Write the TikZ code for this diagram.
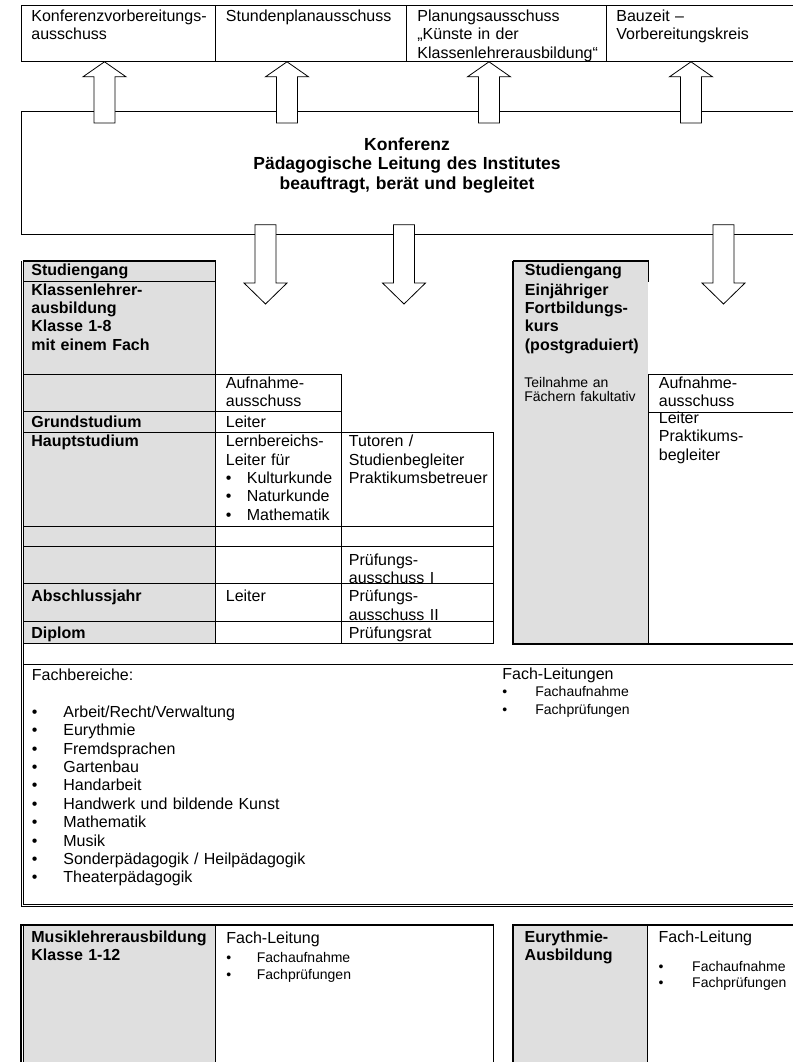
\documentclass[tikz,border=0pt]{standalone}
\usepackage{fontspec}
\setmainfont{Liberation Sans}
\usetikzlibrary{calc}
\definecolor{shade}{RGB}{223,223,223}
\newcommand\fnorm{\fontsize{16}{18.4}\selectfont}
\newcommand\fsmall{\fontsize{14}{17.5}\selectfont}
\newcommand\fbig{\fontsize{17.5}{19.6}\selectfont\bfseries}
\newcommand\bul[2][21pt]{\makebox[#1][l]{\textbullet}#2}

\begin{document}
\begin{tikzpicture}[x=1pt, y=-1pt, line width=0.8pt,
    cell/.style 2 args={draw, anchor=north west, inner sep=0pt,
                        minimum width=#1, minimum height=#2},
    gcell/.style 2 args={cell={#1}{#2}, fill=shade},
    txt/.style={anchor=base west, inner sep=0pt, align=left,
                text width=280pt, font=\fnorm},
    btxt/.style={txt, font=\fnorm\bfseries},
    stxt/.style={txt, font=\fsmall},
    ktxt/.style={anchor=base, inner sep=0pt, align=center,
                 text width=420pt, font=\fbig},
    frame/.style={line width=1.6pt},
    blockarrow/.style 2 args={draw, fill=white,
      to path={let \p1=(\tikztostart), \p2=(\tikztotarget) in
        ({\x1-10.5pt},{\y1-(#2)}) -- ({\x1-10.5pt},{\y2-(#1)}) -- ({\x1-21.5pt},{\y2-(#1)})
        -- (\x2,\y2) -- ({\x1+21.5pt},{\y2-(#1)}) -- ({\x1+10.5pt},{\y2-(#1)})
        -- ({\x1+10.5pt},{\y1-(#2)}) -- cycle}}
  ]
  \useasboundingbox (0,0) rectangle (792,1062);

  % Ausschuesse
  \node[cell={194pt}{56pt}] (vorb) at (21,5) {};
  \node[cell={191pt}{56pt}] (stdpl) at (215,5) {};
  \node[cell={200pt}{56pt}] (kuenste) at (406,5) {};
  \node[cell={202pt}{56pt}] (bauzeit) at (606,5) {};
  \node[txt] (vorb-t) at (31,21.5) {Konferenzvorbereitungs-\\ausschuss};
  \node[txt] (stdpl-t) at (225.5,21.5) {Stundenplanausschuss};
  \node[txt] (kuenste-t) at (417,21.5) {Planungsausschuss\\„Künste in der\\Klassenlehrerausbildung“};
  \node[txt] (bauzeit-t) at (616,21.5) {Bauzeit –\\Vorbereitungskreis};

  % Konferenz
  \node[cell={787pt}{123pt}] (konf) at (21,111) {};
  \node[ktxt] (konf-t) at (407,150) {Konferenz\\Pädagogische Leitung des Institutes\\beauftragt, berät und begleitet};

  % Studiengang Klassenlehrer
  \node[gcell={192pt}{20pt}] (stg1) at (23,261) {};
  \node[gcell={192pt}{93pt}] (kl) at (23,281) {};
  \node[gcell={192pt}{37pt}] (kl3) at (23,374) {};
  \node[gcell={192pt}{21pt}] (grund) at (23,411) {};
  \node[gcell={192pt}{94pt}] (haupt) at (23,432) {};
  \node[gcell={192pt}{20pt}] (kl6) at (23,526) {};
  \node[gcell={192pt}{37pt}] (kl7) at (23,546) {};
  \node[gcell={192pt}{38pt}] (absch) at (23,583) {};
  \node[gcell={192pt}{22pt}] (dipl) at (23,621) {};
  \node[cell={126pt}{37pt}] (aufn1) at (215,374) {};
  \node[cell={126pt}{21pt}] (leit1) at (215,411) {};
  \node[cell={126pt}{94pt}] (lern) at (215,432) {};
  \node[cell={126pt}{20pt}] (lern6) at (215,526) {};
  \node[cell={126pt}{37pt}] (lern7) at (215,546) {};
  \node[cell={126pt}{38pt}] (leit2) at (215,583) {};
  \node[cell={126pt}{22pt}] (lern9) at (215,621) {};
  \node[cell={152pt}{94pt}] (tut) at (341,432) {};
  \node[cell={152pt}{20pt}] (tut6) at (341,526) {};
  \node[cell={152pt}{37pt}] (pr1) at (341,546) {};
  \node[cell={152pt}{38pt}] (pr2) at (341,583) {};
  \node[cell={152pt}{22pt}] (prrat) at (341,621) {};
  \draw[frame] (stg1.north west) -- (stg1.north east);

  \node[btxt] (stg1-t) at (31,275) {Studiengang};
  \node[btxt] (kl-t) at (31,295) {Klassenlehrer-\\ausbildung\\Klasse 1-8\\mit einem Fach};
  \node[txt] (aufn1-t) at (225.5,388.3) {Aufnahme-\\ausschuss};
  \node[btxt] (grund-t) at (31,427.3) {Grundstudium};
  \node[txt] (leit1-t) at (225.5,427.3) {Leiter};
  \node[btxt] (haupt-t) at (31,446.7) {Hauptstudium};
  \node[txt] (lern-t) at (225.5,446.7) {Lernbereichs-\\Leiter für\\\bul{Kulturkunde}\\\bul{Naturkunde}\\\bul{Mathematik}};
  \node[txt] (tut-t) at (348.5,446.7) {Tutoren /\\Studienbegleiter\\Praktikumsbetreuer};
  \node[txt] (pr1-t) at (348.5,565) {Prüfungs-\\ausschuss I};
  \node[btxt] (absch-t) at (31,601.7) {Abschlussjahr};
  \node[txt] (leit2-t) at (225.5,601.7) {Leiter};
  \node[txt] (pr2-t) at (348.5,601.7) {Prüfungs-\\ausschuss II};
  \node[btxt] (dipl-t) at (31,638.3) {Diplom};
  \node[txt] (prrat-t) at (348.5,638.3) {Prüfungsrat};

  % Studiengang Fortbildungskurs
  \node[gcell={135pt}{20pt}] (stg2) at (513,261) {};
  \node[gcell={135pt}{362pt}, draw=none] (fk) at (513,281) {};
  \node[cell={160pt}{38pt}] (aufn2) at (648,374) {};
  \node[cell={160pt}{231pt}] (leit3) at (648,412) {};
  \draw[frame] (stg2.north west) |- (leit3.south east);
  \draw[frame] (stg2.north west) -- (stg2.north east);

  \node[btxt] (stg2-t) at (524.5,275) {Studiengang};
  \node[btxt] (fk-t) at (524.5,295) {Einjähriger\\Fortbildungs-\\kurs\\(postgraduiert)};
  \node[stxt, font=\fontsize{14}{14.5}\selectfont] (teil-t) at (524,387) {Teilnahme an\\Fächern fakultativ};
  \node[txt] (aufn2-t) at (658.5,388.3) {Aufnahme-\\ausschuss};
  \node[txt] (leit3-t) at (658.5,423.3) {Leiter\\Praktikums-\\begleiter};

  % Fachbereiche
  \draw (21,261) |- (808,906);
  \draw (23,643) -- (23,664);
  \node[cell={785pt}{240pt}] (fach) at (23,664) {};
  \node[txt] (fb-t) at (31.5,680.5) {Fachbereiche:\\[18.4pt]%
    \bul[31.5pt]{Arbeit/Recht/Verwaltung}\\\bul[31.5pt]{Eurythmie}\\%
    \bul[31.5pt]{Fremdsprachen}\\\bul[31.5pt]{Gartenbau}\\%
    \bul[31.5pt]{Handarbeit}\\\bul[31.5pt]{Handwerk und bildende Kunst}\\%
    \bul[31.5pt]{Mathematik}\\\bul[31.5pt]{Musik}\\%
    \bul[31.5pt]{Sonderpädagogik / Heilpädagogik}\\\bul[31.5pt]{Theaterpädagogik}};
  \node[stxt] (fl-t) at (502,679) {{\fnorm Fach-Leitungen}\\\bul[33pt]{Fachaufnahme}\\\bul[33pt]{Fachprüfungen}};

  % Musik und Eurythmie
  \node[gcell={192pt}{150pt}] (musik) at (23,925) {};
  \node[cell={278pt}{150pt}] (fl2) at (215,925) {};
  \draw[frame] (21,1075) |- (fl2.north east);
  \node[gcell={134pt}{150pt}] (eur) at (513,925) {};
  \node[cell={161pt}{150pt}] (fl3) at (647,925) {};
  \draw[frame] (eur.south west) |- (fl3.north east);

  \node[btxt] (musik-t) at (31,942.5) {Musiklehrerausbildung\\Klasse 1-12};
  \node[stxt] (fl2-t) at (226,943) {{\fnorm Fach-Leitung}\\[1.5pt]\bul[30.5pt]{Fachaufnahme}\\\bul[30.5pt]{Fachprüfungen}};
  \node[btxt] (eur-t) at (524.3,942) {Eurythmie-\\Ausbildung};
  \node[stxt, font=\fontsize{14}{15.6}\selectfont] (fl3-t) at (658.3,942.7) {{\fnorm Fach-Leitung}\\[13.4pt]\bul[33.5pt]{Fachaufnahme}\\\bul[33.5pt]{Fachprüfungen}};

  % Pfeile
  \draw[blockarrow={15pt}{12pt}] (konf.north -| 104.5,0) to (vorb.south -| 104.5,0);
  \draw[blockarrow={15pt}{12pt}] (konf.north -| 287,0) to (stdpl.south -| 287,0);
  \draw[blockarrow={15pt}{12pt}] (konf.north -| 489,0) to (kuenste.south -| 489,0);
  \draw[blockarrow={15pt}{12pt}] (konf.north -| 691,0) to (bauzeit.south -| 691,0);
  \coordinate (d1) at (265.5,304);
  \coordinate (d2) at (404,304);
  \coordinate (d3) at (723.5,304);
  \draw[blockarrow={-21pt}{-10pt}] (konf.south -| 265.5,0) to (d1);
  \draw[blockarrow={-21pt}{-10pt}] (konf.south -| 404,0) to (d2);
  \draw[blockarrow={-21pt}{-10pt}] (konf.south -| 723.5,0) to (d3);
\end{tikzpicture}
\end{document}
